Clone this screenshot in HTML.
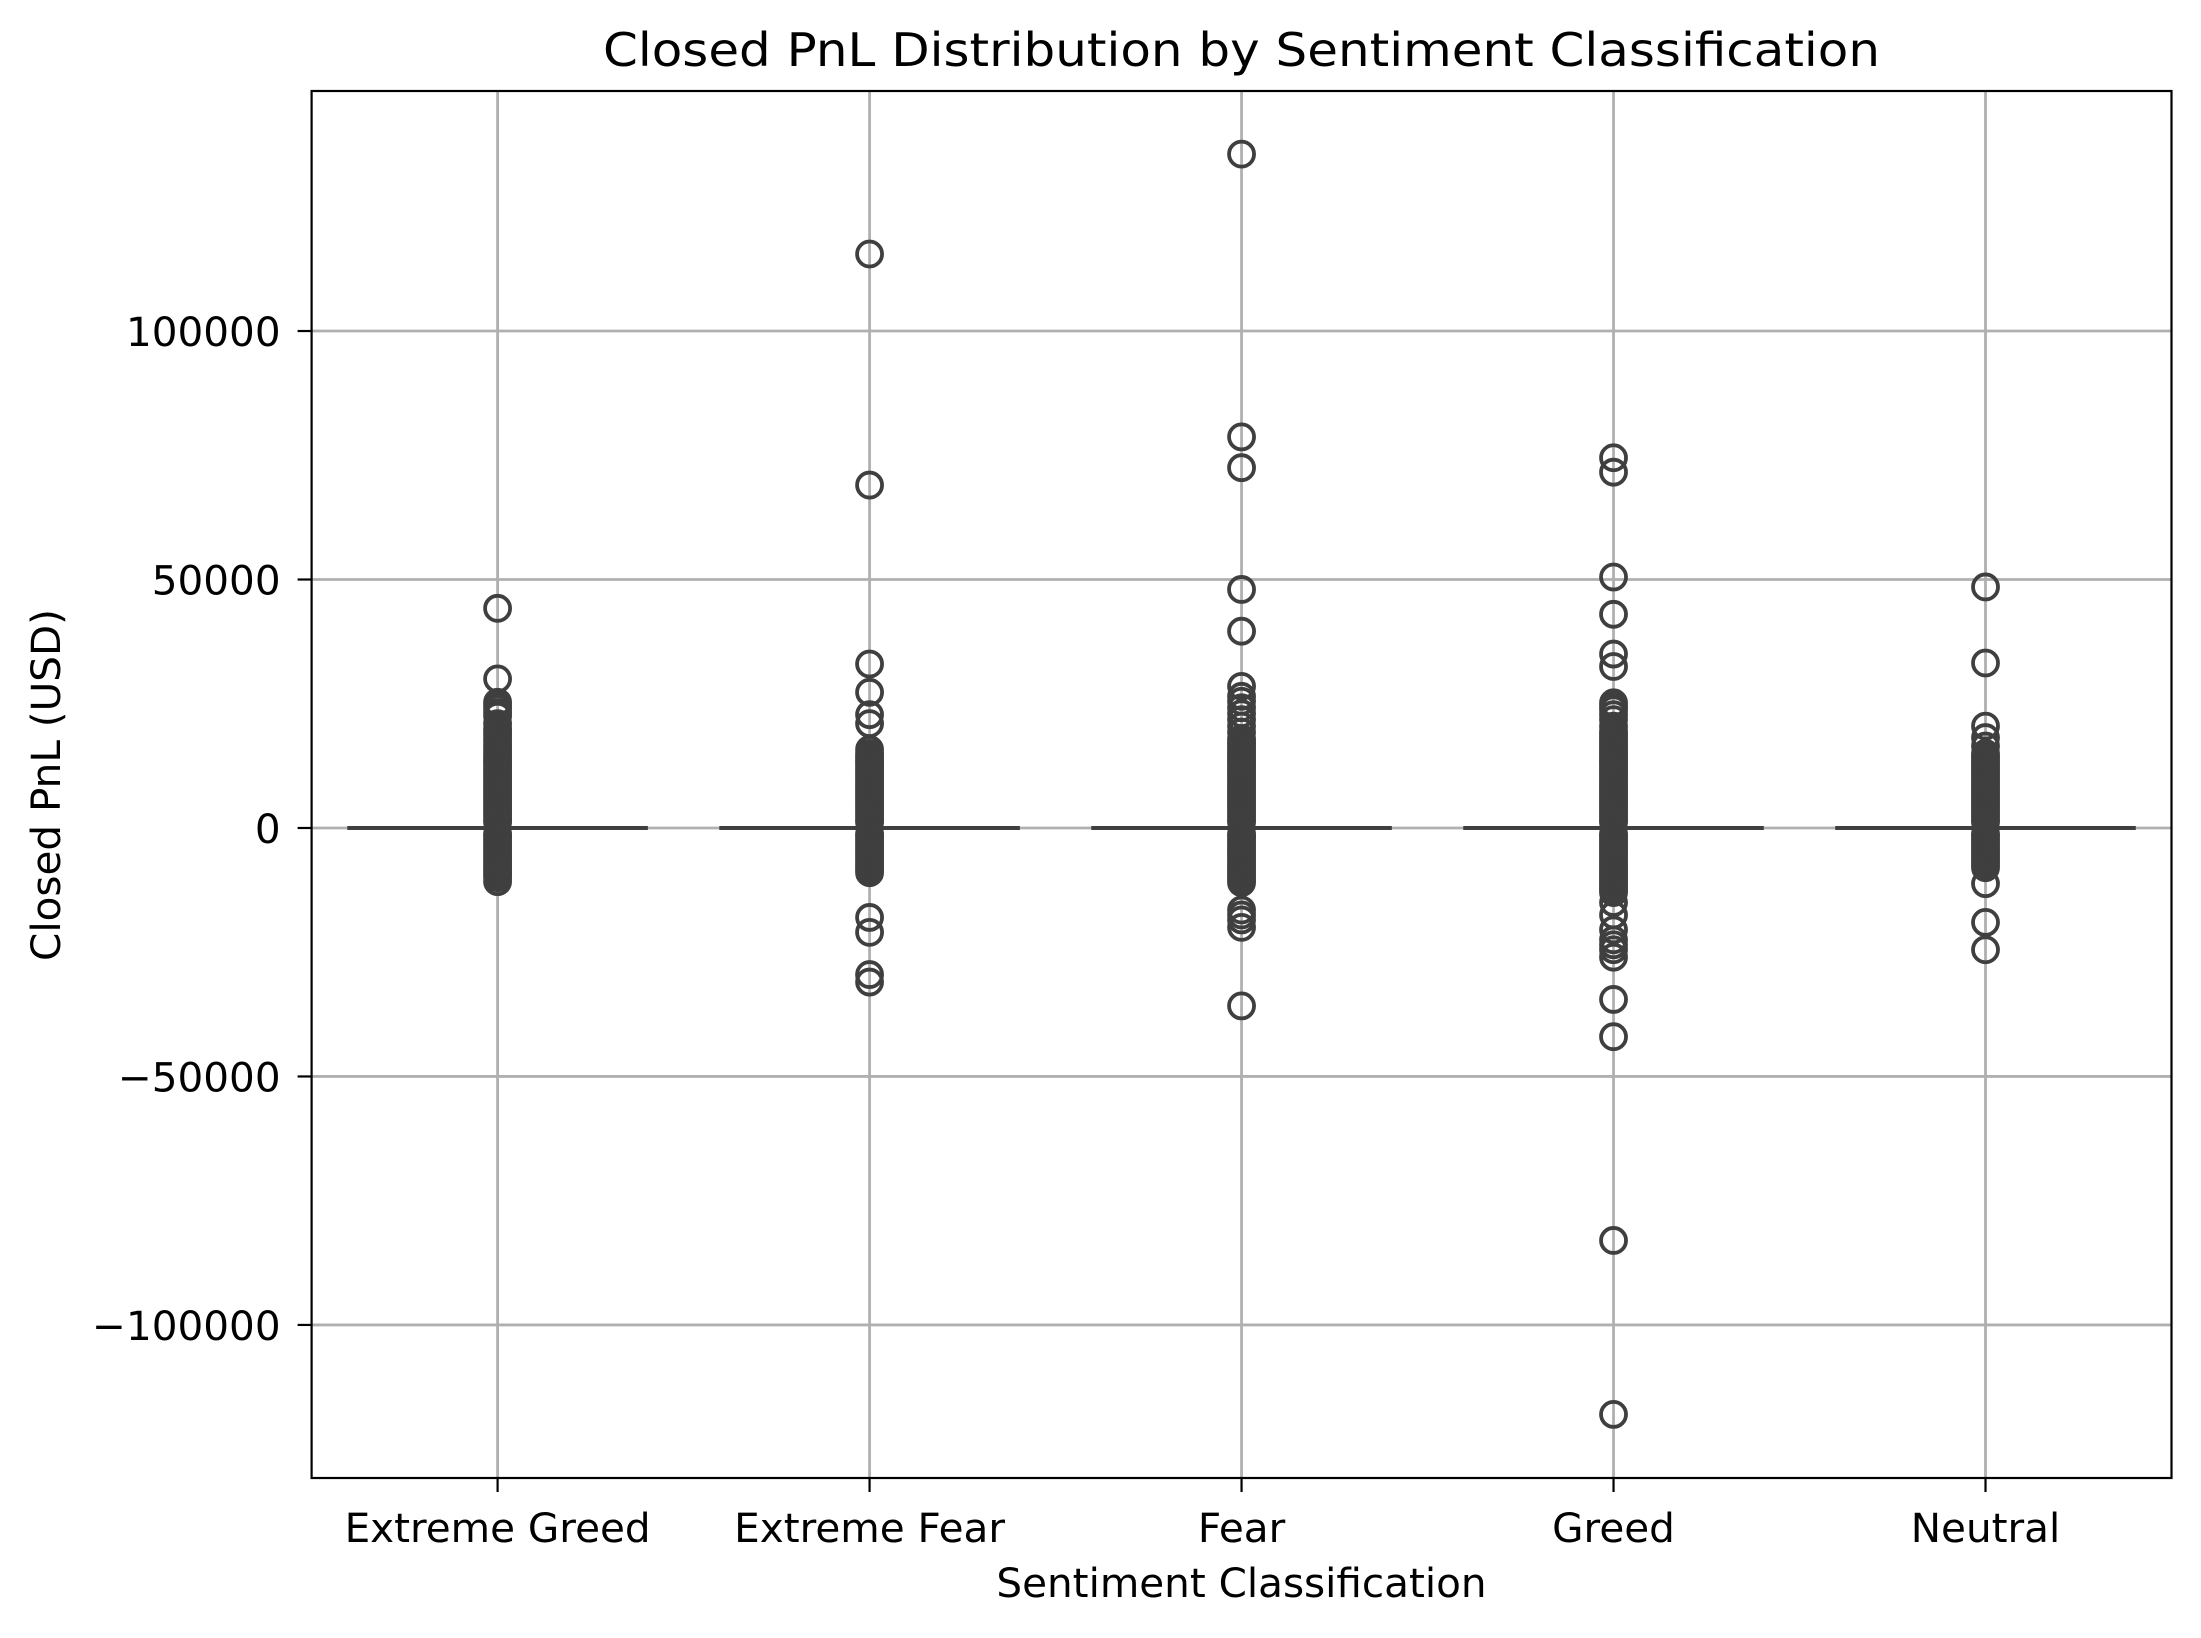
<!DOCTYPE html>
<html><head><meta charset="utf-8"><style>
html,body{margin:0;padding:0;background:#fff;}
svg{display:block;font-family:"DejaVu Sans","Liberation Sans",sans-serif;}
</style></head><body>
<svg id="chart" width="2201" height="1638" viewBox="0 0 2201 1638" xmlns="http://www.w3.org/2000/svg">
<rect x="0" y="0" width="2201" height="1638" fill="#fff"/>
<g id="grid"></g>
<g id="marks"></g>
<rect x="311.6" y="91" width="1859.9" height="1387" fill="none" stroke="#000" stroke-width="2.2"/>
<g id="axes"></g>
<text x="1241.5" y="66" font-size="46" text-anchor="middle" textLength="1277" lengthAdjust="spacingAndGlyphs">Closed PnL Distribution by Sentiment Classification</text>
<text x="1241.5" y="1597" font-size="40.5" text-anchor="middle">Sentiment Classification</text>
<text x="0" y="0" font-size="40.5" text-anchor="middle" transform="translate(60,785) rotate(-90)">Closed PnL (USD)</text>
</svg>
<script>
const categories = ["Extreme Greed","Extreme Fear","Fear","Greed","Neutral"];
const yTicks = [-100000,-50000,0,50000,100000];
const yTickLabels = ["\u2212100000","\u221250000","0","50000","100000"];
const medians = [0,0,0,0,0];
const q1s = [-100,-100,-100,-100,-100];
const q3s = [100,100,100,100,100];
const whiskerLo = [-600,-600,-600,-600,-600];
const whiskerHi = [600,600,600,600,600];
const outliersExtremeGreed = [44200,30000,25300,24700,24000,23200,22500,21000,20000,19400,18800,18100,17500,16800,16200,15600,15000,14500,14000,13500,13000,12500,12000,11500,11000,10500,10000,9500,9000,8500,8000,7500,7000,6500,6000,5500,5000,4500,4000,3500,3000,2500,2000,1500,1200,-1200,-1500,-2000,-2500,-3000,-3500,-4000,-4500,-5000,-5500,-6000,-6500,-7000,-7500,-8000,-8500,-9000,-9500,-10000,-10800];
const outliersExtremeFear = [115500,69000,33000,27300,22800,21000,15800,15000,14500,14000,13500,13000,12500,12000,11500,11000,10500,10000,9500,9000,8500,8000,7500,7000,6500,6000,5500,5000,4500,4000,3500,3000,2500,2000,1500,1200,-1200,-1500,-2000,-2500,-3000,-3500,-4000,-4500,-5000,-5500,-6000,-6500,-7000,-7500,-8000,-8500,-9000,-18000,-21000,-29500,-31000];
const outliersFear = [135600,78700,72500,48000,39600,28500,26500,25500,24200,23000,21800,20500,19300,18000,17500,17000,16500,16000,15500,15000,14500,14000,13500,13000,12500,12000,11500,11000,10500,10000,9500,9000,8500,8000,7500,7000,6500,6000,5500,5000,4500,4000,3500,3000,2500,2000,1500,1200,-1200,-1500,-2000,-2500,-3000,-3500,-4000,-4500,-5000,-5500,-6000,-6500,-7000,-7500,-8000,-8500,-9000,-9500,-10000,-10500,-11000,-16500,-17500,-18500,-20000,-35800];
const outliersGreed = [74500,71600,50500,43000,35000,32500,25200,24500,23800,22800,21800,20500,19500,19000,18500,18000,17500,17000,16500,16000,15500,15000,14500,14000,13500,13000,12500,12000,11500,11000,10500,10000,9500,9000,8500,8000,7500,7000,6500,6000,5500,5000,4500,4000,3500,3000,2500,2000,1500,1200,-1200,-1500,-2000,-2500,-3000,-3500,-4000,-4500,-5000,-5500,-6000,-6500,-7000,-7500,-8000,-8500,-9000,-9500,-10000,-10500,-11000,-11500,-12000,-12500,-13000,-15000,-17500,-20500,-22500,-23500,-24500,-26000,-34500,-42000,-83000,-118000];
const outliersNeutral = [48500,33200,20500,18200,16500,15000,14500,14000,13500,13000,12500,12000,11500,11000,10500,10000,9500,9000,8500,8000,7500,7000,6500,6000,5500,5000,4500,4000,3500,3000,2500,2000,1500,1200,-1200,-1500,-2000,-2500,-3000,-3500,-4000,-4500,-5000,-5500,-6000,-6500,-7000,-7500,-8000,-11200,-19000,-24500];
const outliers = [outliersExtremeGreed,outliersExtremeFear,outliersFear,outliersGreed,outliersNeutral];

const NS="http://www.w3.org/2000/svg";
const L=311.6,R=2171.5,T=91,B=1478;
const yMin=-130800,yMax=148300;
const y=v=>B-(v-yMin)/(yMax-yMin)*(B-T);
const x=i=>L+(i+0.5)/categories.length*(R-L);
const bw=(R-L)/categories.length*0.8;
function mk(tag,attrs,parent){const e=document.createElementNS(NS,tag);for(const k in attrs)e.setAttribute(k,attrs[k]);parent.appendChild(e);return e;}
const grid=document.getElementById('grid'),axes=document.getElementById('axes'),marks=document.getElementById('marks');
yTicks.forEach((t,i)=>{
  const gl=mk('line',{x1:L,x2:R,y1:y(t),y2:y(t),stroke:'#b0b0b0','stroke-width':2.8},grid);
  
  
  const tk=mk('line',{x1:L-14,x2:L,y1:y(t),y2:y(t),stroke:'#000','stroke-width':2.2},axes);
  
  
  const tx=mk('text',{x:L-31,y:y(t)+15,'font-size':40.5,'text-anchor':'end'},axes);
  tx.textContent=yTickLabels[i];
  
  
});
categories.forEach((c,i)=>{
  const cx=x(i);
  const gl=mk('line',{x1:cx,x2:cx,y1:T,y2:B,stroke:'#b0b0b0','stroke-width':2.8},grid);
  
  
  const tk=mk('line',{x1:cx,x2:cx,y1:B,y2:B+14,stroke:'#000','stroke-width':2.2},axes);
  
  
  const tx=mk('text',{x:cx,y:1542,'font-size':40.5,'text-anchor':'middle'},axes);
  tx.textContent=c;
  
  
  const g=mk('g',{},marks);
  
  
  const wl=mk('line',{x1:cx,x2:cx,y1:y(whiskerLo[i]),y2:y(whiskerHi[i]),stroke:'#3f3f3f','stroke-width':3.8},g);
  
  
  const bx=mk('rect',{x:cx-bw/2,y:y(q3s[i]),width:bw,height:Math.max(1,y(q1s[i])-y(q3s[i])),fill:'#3f3f3f',stroke:'#3f3f3f','stroke-width':3},g);
  
  
  const md=mk('line',{x1:cx-bw/2,x2:cx+bw/2,y1:y(medians[i]),y2:y(medians[i]),stroke:'#3f3f3f','stroke-width':3.8},g);
  
  
  outliers[i].forEach(v=>{
    const p=mk('circle',{cx:cx,cy:y(v),r:12.5,fill:'none',stroke:'#3f3f3f','stroke-width':3.8},g);
    
    
  });
});
</script>
</body></html>
